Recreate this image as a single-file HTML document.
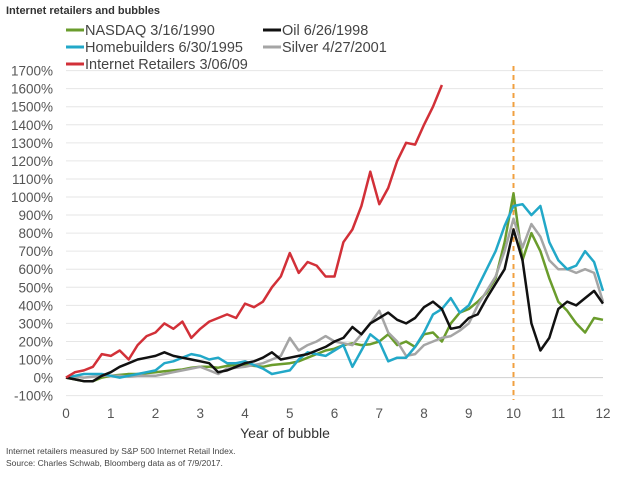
<!DOCTYPE html>
<html><head><meta charset="utf-8"><style>
body{margin:0;background:#fff;width:630px;height:483px;overflow:hidden;font-family:"Liberation Sans",sans-serif}
svg{display:block}
</style></head><body>
<svg id="chart" width="630" height="483">
<text x="6" y="14" font-size="11" font-weight="bold" fill="#333">Internet retailers and bubbles</text>
<g id="grid"></g>
<g id="yaxis"></g>
<g id="xaxis"></g>
<g id="series"></g>
<g id="legend"></g>
<text x="285" y="438" font-size="14" fill="#333" text-anchor="middle">Year of bubble</text>
<text x="6" y="454" font-size="8.5" fill="#444">Internet retailers measured by S&amp;P 500 Internet Retail Index.</text>
<text x="6" y="466" font-size="8.5" fill="#444">Source: Charles Schwab, Bloomberg data as of 7/9/2017.</text>
</svg>
<script>
const yTicks=[-100,0,100,200,300,400,500,600,700,800,900,1000,1100,1200,1300,1400,1500,1600,1700];
const xTicks=[0,1,2,3,4,5,6,7,8,9,10,11,12];
const step=0.2;
const nasdaq=[0,-10,-20,-20,0,10,15,20,20,25,30,35,40,45,55,60,60,55,65,70,70,65,60,70,75,80,90,110,130,150,160,180,190,180,185,200,240,180,200,170,240,250,200,300,360,380,420,470,550,750,1020,650,800,700,550,420,370,300,250,330,320];
const oil=[0,-10,-20,-20,10,30,60,80,100,110,120,140,120,110,100,90,80,30,40,60,80,90,110,140,100,110,120,130,150,170,200,220,280,240,300,330,360,320,300,330,390,420,380,270,280,330,350,440,520,600,820,650,300,150,220,380,420,400,440,480,410];
const homebuilders=[0,10,20,20,20,10,0,10,20,30,40,80,90,110,130,120,100,110,80,80,90,70,50,20,30,40,100,140,130,120,150,180,60,150,240,200,90,110,110,170,250,350,380,440,360,400,500,600,700,840,950,960,900,950,750,650,600,620,700,640,480];
const silver=[0,5,0,5,10,10,10,5,10,10,10,20,30,40,50,60,40,20,50,55,60,70,80,100,120,220,150,180,200,230,200,190,180,240,300,370,250,200,120,130,180,200,220,230,260,300,400,480,560,700,880,720,850,780,650,600,600,580,600,580,420];
const internet=[0,30,40,60,130,120,150,100,180,230,250,300,270,310,220,270,310,330,350,330,410,390,420,500,560,690,580,640,620,560,560,750,820,950,1140,960,1050,1200,1300,1290,1400,1500,1620];
const bubbleYear=10;
const NS="http://www.w3.org/2000/svg";
const X=v=>66+v*(603-66)/12;
const Y=v=>377.6-v*0.1806;
function mk(tag,attrs,parent){const e=document.createElementNS(NS,tag);for(const k in attrs)e.setAttribute(k,attrs[k]);parent.appendChild(e);return e;}
const grid=document.getElementById('grid'),ya=document.getElementById('yaxis'),xa=document.getElementById('xaxis'),sg=document.getElementById('series'),lg=document.getElementById('legend');
yTicks.forEach(t=>{
 const l=mk('line',{x1:66,x2:603,y1:Y(t),y2:Y(t),stroke:t===0?'#d0d0d0':'#e6e6e6','stroke-width':1},grid);
 
 
 const tx=mk('text',{x:53,y:Y(t)+5,'font-size':13.5,fill:'#555','text-anchor':'end'},ya);
 tx.textContent=t+'%';
 
 
});
xTicks.forEach(t=>{
 const tx=mk('text',{x:X(t),y:418,'font-size':13.5,fill:'#555','text-anchor':'middle'},xa);
 tx.textContent=t;
 
 
});
const dl=mk('line',{x1:X(bubbleYear),x2:X(bubbleYear),y1:66,y2:400,stroke:'#f0a040','stroke-width':2,'stroke-dasharray':'5,4'},sg);


const series=[[nasdaq,'#6a9c2c','nasdaq-line'],[silver,'#a5a5a5','silver-line'],[homebuilders,'#22a8c8','homebuilders-line'],[oil,'#111','oil-line'],[internet,'#d23038','internet-retailers-line']];
series.forEach(([d,c,n])=>{
 const p=mk('polyline',{points:d.map((v,i)=>X(i*step).toFixed(1)+','+Y(v).toFixed(1)).join(' '),fill:'none',stroke:c,'stroke-width':2.5,'stroke-linejoin':'round'},sg);
 
 
});
const legendItems=[['NASDAQ 3/16/1990','#6a9c2c',66,30],['Oil 6/26/1998','#111',263,30],['Homebuilders 6/30/1995','#22a8c8',66,47],['Silver 4/27/2001','#a5a5a5',263,47],['Internet Retailers 3/06/09','#d23038',66,64]];
legendItems.forEach(([t,c,x,y])=>{
 const g=mk('g',{},lg);
 
 
 mk('line',{x1:x,x2:x+18,y1:y,y2:y,stroke:c,'stroke-width':3},g);
 const tx=mk('text',{x:x+19,y:y+5,'font-size':14.5,fill:'#444'},g);
 tx.textContent=t;
});
</script>
</body></html>
